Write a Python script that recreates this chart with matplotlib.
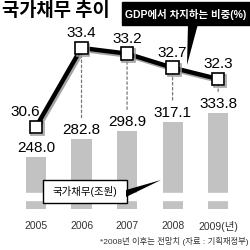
import matplotlib
matplotlib.use('Agg')
import matplotlib.pyplot as plt
import matplotlib.patheffects as pe
from matplotlib.patches import Rectangle, Polygon

plt.rcParams['font.family'] = ['Liberation Sans', 'Noto Sans CJK KR', 'DejaVu Sans']

# 데이터
years = ['2005', '2006', '2007', '2008', '2009(년)']
debt = [248.0, 282.8, 298.9, 317.1, 333.8]          # 국가채무(조원)
gdp_ratio = [30.6, 33.4, 33.2, 32.7, 32.3]          # GDP에서 차지하는 비중(%)

W = H = 250
fig = plt.figure(figsize=(2.5, 2.5), dpi=100)
ax = fig.add_axes([0, 0, 1, 1])
ax.axis('off')
ax2 = ax.twinx()
ax2.axis('off')

# 막대 (축 절단 표시)
base = 146.6
x = list(range(len(years)))
ax.bar(x, [d - base for d in debt], bottom=base, width=0.44, color='#c2c2c2', zorder=1)
ax.axhspan(164, 177.5, color='white', zorder=2)
for i, d in enumerate(debt):
    ax.annotate(f'{d:.1f}', (i, d), xytext=(0, 9), textcoords='offset pixels',
                ha='center', va='center', fontsize=11, zorder=3)
for i, y in enumerate(years):
    ax.text(i, 113, y, ha='center', va='center', fontsize=7.5, color='#333333')

# 꺾은선
ax2.plot(x, gdp_ratio, color='black', lw=3.2, zorder=5,
         marker='s', ms=9, mfc='white', mec='black', mew=1.2,
         path_effects=[pe.SimpleLineShadow(offset=(1.2, -1.5), shadow_color='#9a9a9a', alpha=0.9), pe.Normal()])

# 점선 연결
for i in range(1, len(x)):
    ax2.annotate('', xy=(i, gdp_ratio[i]), xycoords=ax2.transData,
                 xytext=(i, debt[i] + 42), textcoords=ax.transData,
                 arrowprops=dict(arrowstyle='-', linestyle=(0, (2, 2)), color='#777777', lw=0.9,
                                 shrinkA=0, shrinkB=0), zorder=2)

for i, v in enumerate(gdp_ratio):
    dx = -11 if i == 0 else 0
    ax2.annotate(f'{v:.1f}', (i, v), xytext=(dx, 15), textcoords='offset pixels',
                 ha='center', va='center', fontsize=11)

ax.set_xlim(-0.79, 4.70)
ax.set_ylim(66.7, 554)
ax2.set_ylim(26.24, 35.10)


def px(x0, y0):
    return (x0 / W, 1 - y0 / H)


# 제목
fig.text(*px(2, 10), '국가채무 추이', fontsize=13.5, fontweight='bold',
         family=['Noto Sans CJK KR'], ha='left', va='center')

# GDP 비중 설명 상자
fig.patches.append(Rectangle(px(122, 25), 128 / W, 23 / H, transform=fig.transFigure,
                             facecolor='black', edgecolor='black', zorder=6))
fig.patches.append(Polygon([px(188, 24), px(198, 24), px(187, 65)], closed=True,
                           transform=fig.transFigure, facecolor='black', edgecolor='none', zorder=6))
fig.text(*px(186, 14), 'GDP에서 차지하는 비중(%)', color='white', fontsize=7.5,
         fontweight='bold', ha='center', va='center', zorder=7)

# 국가채무 범례 상자
fig.patches.append(Rectangle(px(43, 203), 84 / W, 23 / H, transform=fig.transFigure,
                             facecolor='white', edgecolor='black', lw=1, zorder=6))
fig.patches.append(Polygon([px(126, 190), px(126, 197), px(161, 180)], closed=True,
                           transform=fig.transFigure, facecolor='black', edgecolor='none', zorder=6))
fig.text(*px(85, 191.5), '국가채무(조원)', fontsize=7.5, ha='center', va='center', zorder=7)

# 주석
fig.text(*px(248, 241), '*2008년 이후는 전망치 (자료 : 기획재정부)', fontsize=6,
         ha='right', va='center', color='#333333')

fig.savefig('out.png', dpi=100)
